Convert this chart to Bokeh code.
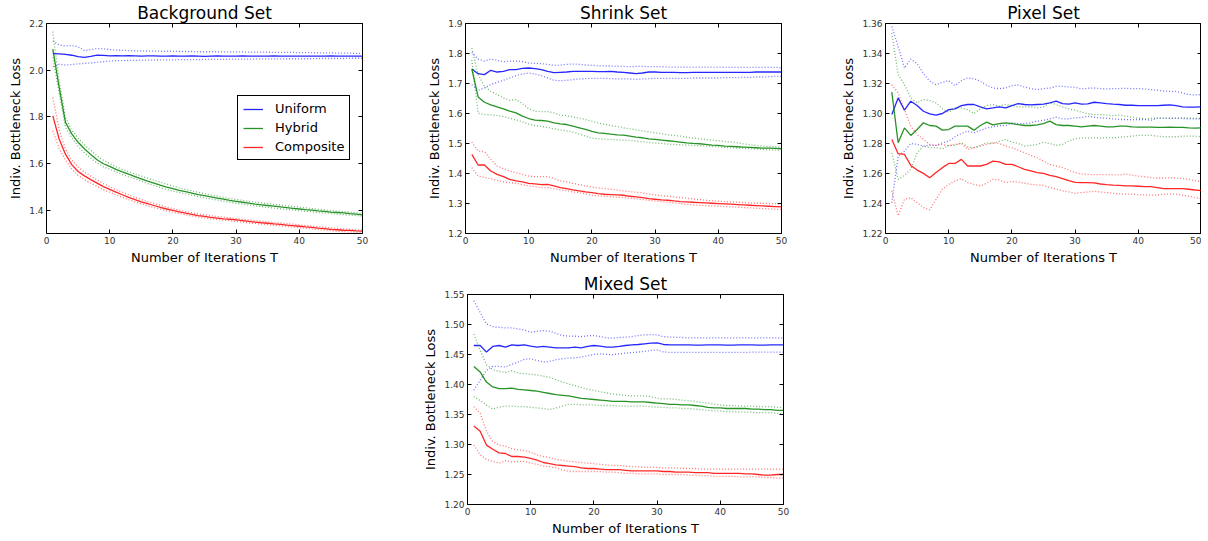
from bokeh.plotting import figure
from bokeh.models import Range1d, FixedTicker, PrintfTickFormatter, LinearAxis, Legend, LegendItem, Spacer
from bokeh.layouts import row, column
from bokeh.embed import file_html
from bokeh.resources import INLINE

T = list(range(1, 51))
x_ticks = [0, 10, 20, 30, 40, 50]
series_names = ["Uniform", "Hybrid", "Composite"]

# ---------------- Background Set ----------------
bg_uni = [2.071, 2.070, 2.068, 2.064, 2.058, 2.055, 2.059, 2.064, 2.063, 2.061, 2.062, 2.061, 2.062, 2.061, 2.060, 2.061, 2.061, 2.060, 2.060, 2.061,
          2.060, 2.060, 2.061, 2.060, 2.059, 2.060, 2.061, 2.060, 2.060, 2.060, 2.061, 2.060, 2.060, 2.060, 2.060, 2.061, 2.060, 2.060, 2.060, 2.060,
          2.060, 2.060, 2.060, 2.060, 2.061, 2.060, 2.060, 2.060, 2.060, 2.060]
bg_uni_hi = [2.125, 2.108, 2.104, 2.106, 2.100, 2.084, 2.088, 2.093, 2.092, 2.088, 2.086, 2.085, 2.084, 2.083, 2.083, 2.082, 2.082, 2.081, 2.081, 2.081,
             2.080, 2.080, 2.080, 2.079, 2.079, 2.079, 2.079, 2.078, 2.078, 2.078, 2.078, 2.077, 2.077, 2.077, 2.077, 2.076, 2.076, 2.076, 2.076, 2.075,
             2.075, 2.075, 2.074, 2.074, 2.074, 2.073, 2.073, 2.073, 2.072, 2.072]
bg_uni_lo = [2.015, 2.025, 2.022, 2.024, 2.027, 2.029, 2.031, 2.034, 2.036, 2.039, 2.041, 2.041, 2.042, 2.042, 2.043, 2.043, 2.043, 2.044, 2.044, 2.044,
             2.045, 2.045, 2.045, 2.045, 2.046, 2.046, 2.046, 2.046, 2.047, 2.047, 2.047, 2.047, 2.048, 2.048, 2.048, 2.048, 2.048, 2.049, 2.049, 2.049,
             2.049, 2.049, 2.050, 2.050, 2.050, 2.050, 2.050, 2.051, 2.051, 2.051]
bg_hyb = [2.090, 1.927, 1.776, 1.727, 1.691, 1.663, 1.639, 1.616, 1.599, 1.588, 1.575, 1.564, 1.554, 1.544, 1.534, 1.524, 1.516, 1.507, 1.499, 1.492,
          1.485, 1.479, 1.473, 1.467, 1.462, 1.457, 1.452, 1.447, 1.442, 1.438, 1.434, 1.430, 1.426, 1.423, 1.420, 1.417, 1.414, 1.411, 1.408, 1.405,
          1.402, 1.400, 1.397, 1.395, 1.392, 1.390, 1.388, 1.385, 1.383, 1.380]
bg_hyb_hi = [2.165, 1.953, 1.797, 1.743, 1.708, 1.681, 1.656, 1.633, 1.614, 1.600, 1.586, 1.575, 1.565, 1.555, 1.546, 1.537, 1.528, 1.520, 1.512, 1.503,
             1.496, 1.489, 1.483, 1.477, 1.471, 1.465, 1.460, 1.455, 1.450, 1.446, 1.442, 1.438, 1.435, 1.431, 1.428, 1.425, 1.422, 1.419, 1.416, 1.413,
             1.410, 1.407, 1.404, 1.401, 1.398, 1.396, 1.394, 1.391, 1.389, 1.386]
bg_hyb_lo = [2.055, 1.903, 1.755, 1.710, 1.674, 1.646, 1.623, 1.602, 1.585, 1.576, 1.564, 1.553, 1.543, 1.534, 1.524, 1.514, 1.506, 1.497, 1.489, 1.482,
             1.476, 1.470, 1.464, 1.458, 1.453, 1.448, 1.443, 1.439, 1.434, 1.430, 1.426, 1.422, 1.418, 1.415, 1.412, 1.409, 1.406, 1.403, 1.401, 1.398,
             1.395, 1.393, 1.390, 1.388, 1.386, 1.383, 1.381, 1.379, 1.377, 1.374]
bg_com = [1.804, 1.705, 1.640, 1.595, 1.566, 1.547, 1.531, 1.516, 1.501, 1.489, 1.477, 1.466, 1.455, 1.445, 1.436, 1.428, 1.420, 1.412, 1.405, 1.399,
          1.393, 1.387, 1.382, 1.377, 1.373, 1.369, 1.366, 1.363, 1.361, 1.358, 1.355, 1.352, 1.349, 1.346, 1.344, 1.341, 1.339, 1.336, 1.334, 1.331,
          1.328, 1.326, 1.323, 1.321, 1.318, 1.316, 1.314, 1.313, 1.311, 1.310]
bg_com_hi = [1.882, 1.745, 1.662, 1.615, 1.585, 1.563, 1.546, 1.530, 1.514, 1.501, 1.488, 1.477, 1.466, 1.455, 1.446, 1.437, 1.429, 1.421, 1.413, 1.407,
             1.400, 1.394, 1.389, 1.384, 1.380, 1.376, 1.373, 1.370, 1.367, 1.364, 1.361, 1.358, 1.355, 1.352, 1.350, 1.347, 1.345, 1.342, 1.340, 1.337,
             1.334, 1.332, 1.329, 1.327, 1.324, 1.322, 1.320, 1.318, 1.316, 1.315]
bg_com_lo = [1.740, 1.665, 1.615, 1.577, 1.549, 1.531, 1.516, 1.502, 1.488, 1.477, 1.466, 1.455, 1.445, 1.436, 1.427, 1.419, 1.411, 1.404, 1.397, 1.391,
             1.386, 1.380, 1.375, 1.371, 1.367, 1.363, 1.360, 1.357, 1.355, 1.352, 1.349, 1.346, 1.343, 1.340, 1.338, 1.335, 1.333, 1.330, 1.328, 1.325,
             1.322, 1.320, 1.317, 1.315, 1.312, 1.310, 1.308, 1.307, 1.305, 1.304]

# ---------------- Shrink Set ----------------
sh_uni = [1.7483, 1.7328, 1.7295, 1.7439, 1.7383, 1.7405, 1.7461, 1.7461, 1.7505, 1.7516, 1.7494, 1.7461, 1.7405, 1.7361, 1.7372, 1.7383, 1.7405, 1.7405, 1.7405, 1.7405,
          1.7394, 1.7394, 1.7405, 1.7383, 1.7372, 1.7350, 1.7328, 1.7350, 1.7383, 1.7383, 1.7372, 1.7372, 1.7372, 1.7361, 1.7361, 1.7372, 1.7372, 1.7372, 1.7372, 1.7372,
          1.7372, 1.7372, 1.7372, 1.7372, 1.7372, 1.7383, 1.7383, 1.7383, 1.7383, 1.7383]
sh_uni_hi = [1.8037, 1.7815, 1.7749, 1.7815, 1.7771, 1.7726, 1.7749, 1.7749, 1.7726, 1.7682, 1.7671, 1.7660, 1.7638, 1.7605, 1.7616, 1.7638, 1.7649, 1.7638, 1.7616, 1.7605,
             1.7594, 1.7583, 1.7583, 1.7571, 1.7571, 1.7560, 1.7571, 1.7571, 1.7560, 1.7560, 1.7560, 1.7549, 1.7549, 1.7549, 1.7549, 1.7549, 1.7549, 1.7549, 1.7549, 1.7549,
             1.7538, 1.7538, 1.7538, 1.7538, 1.7538, 1.7538, 1.7538, 1.7538, 1.7538, 1.7527]
sh_uni_lo = [1.6962, 1.6774, 1.6852, 1.6962, 1.7040, 1.7106, 1.7184, 1.7261, 1.7317, 1.7350, 1.7317, 1.7261, 1.7184, 1.7106, 1.7095, 1.7106, 1.7128, 1.7151, 1.7162, 1.7173,
             1.7173, 1.7173, 1.7162, 1.7151, 1.7151, 1.7151, 1.7140, 1.7151, 1.7162, 1.7173, 1.7173, 1.7173, 1.7173, 1.7173, 1.7173, 1.7184, 1.7184, 1.7184, 1.7184, 1.7184,
             1.7195, 1.7195, 1.7195, 1.7206, 1.7206, 1.7217, 1.7217, 1.7228, 1.7239, 1.7239]
sh_hyb = [1.7483, 1.6553, 1.6375, 1.6287, 1.6220, 1.6154, 1.6076, 1.6021, 1.5910, 1.5833, 1.5777, 1.5766, 1.5744, 1.5689, 1.5656, 1.5633, 1.5578, 1.5523, 1.5467, 1.5401,
          1.5357, 1.5335, 1.5312, 1.5290, 1.5279, 1.5246, 1.5213, 1.5191, 1.5157, 1.5135, 1.5113, 1.5091, 1.5069, 1.5047, 1.5024, 1.5002, 1.4991, 1.4969, 1.4947, 1.4936,
          1.4914, 1.4903, 1.4892, 1.4880, 1.4869, 1.4858, 1.4847, 1.4847, 1.4836, 1.4825]
sh_hyb_hi = [1.8180, 1.7295, 1.6907, 1.6741, 1.6630, 1.6520, 1.6442, 1.6464, 1.6331, 1.6154, 1.6076, 1.6065, 1.6065, 1.6021, 1.5944, 1.5932, 1.5888, 1.5844, 1.5800, 1.5744,
             1.5689, 1.5633, 1.5600, 1.5567, 1.5523, 1.5489, 1.5456, 1.5423, 1.5390, 1.5357, 1.5323, 1.5290, 1.5268, 1.5246, 1.5213, 1.5180, 1.5157, 1.5135, 1.5113, 1.5091,
             1.5069, 1.5047, 1.5024, 1.4991, 1.4958, 1.4936, 1.4914, 1.4903, 1.4892, 1.4880]
sh_hyb_lo = [1.7782, 1.6010, 1.5966, 1.5955, 1.5932, 1.5899, 1.5844, 1.5789, 1.5722, 1.5645, 1.5600, 1.5567, 1.5534, 1.5490, 1.5456, 1.5423, 1.5379, 1.5312, 1.5246, 1.5179,
             1.5157, 1.5146, 1.5135, 1.5124, 1.5113, 1.5102, 1.5080, 1.5058, 1.5035, 1.5013, 1.5002, 1.4980, 1.4969, 1.4958, 1.4947, 1.4936, 1.4925, 1.4914, 1.4903, 1.4891,
             1.4869, 1.4858, 1.4847, 1.4836, 1.4825, 1.4814, 1.4803, 1.4792, 1.4781, 1.4770]
sh_com = [1.4637, 1.4283, 1.4283, 1.4083, 1.3972, 1.3895, 1.3806, 1.3751, 1.3718, 1.3673, 1.3651, 1.3629, 1.3640, 1.3585, 1.3529, 1.3496, 1.3452, 1.3419, 1.3385, 1.3363,
          1.3330, 1.3308, 1.3297, 1.3286, 1.3275, 1.3241, 1.3219, 1.3197, 1.3164, 1.3142, 1.3120, 1.3109, 1.3086, 1.3064, 1.3053, 1.3042, 1.3031, 1.3020, 1.3009, 1.2998,
          1.2987, 1.2976, 1.2965, 1.2954, 1.2942, 1.2931, 1.2920, 1.2909, 1.2898, 1.2887]
sh_com_hi = [1.5047, 1.4747, 1.4725, 1.4471, 1.4249, 1.4161, 1.4083, 1.4028, 1.3972, 1.3917, 1.3895, 1.3895, 1.3895, 1.3828, 1.3751, 1.3718, 1.3673, 1.3629, 1.3585, 1.3552,
             1.3518, 1.3496, 1.3474, 1.3452, 1.3419, 1.3396, 1.3374, 1.3352, 1.3319, 1.3286, 1.3264, 1.3241, 1.3219, 1.3197, 1.3175, 1.3153, 1.3131, 1.3109, 1.3086, 1.3075,
             1.3064, 1.3053, 1.3042, 1.3031, 1.3020, 1.3009, 1.3009, 1.2998, 1.2998, 1.2987]
sh_com_lo = [1.4194, 1.3917, 1.3862, 1.3828, 1.3773, 1.3718, 1.3695, 1.3673, 1.3629, 1.3585, 1.3563, 1.3529, 1.3529, 1.3496, 1.3452, 1.3430, 1.3385, 1.3363, 1.3319, 1.3275,
             1.3252, 1.3241, 1.3230, 1.3208, 1.3197, 1.3175, 1.3153, 1.3131, 1.3109, 1.3086, 1.3064, 1.3042, 1.3020, 1.2998, 1.2976, 1.2954, 1.2942, 1.2931, 1.2920, 1.2909,
             1.2898, 1.2887, 1.2876, 1.2865, 1.2854, 1.2843, 1.2832, 1.2821, 1.2810, 1.2799]

# ---------------- Pixel Set ----------------
px_uni = [1.2993, 1.3104, 1.3022, 1.3082, 1.3053, 1.3015, 1.2998, 1.2989, 1.3000, 1.3026, 1.3031, 1.3053, 1.3060, 1.3060, 1.3044, 1.3031, 1.3037, 1.3044, 1.3037, 1.3053,
          1.3066, 1.3060, 1.3057, 1.3060, 1.3062, 1.3071, 1.3082, 1.3066, 1.3062, 1.3071, 1.3062, 1.3064, 1.3075, 1.3071, 1.3066, 1.3062, 1.3060, 1.3055, 1.3055, 1.3053,
          1.3053, 1.3053, 1.3053, 1.3055, 1.3057, 1.3053, 1.3044, 1.3042, 1.3042, 1.3044]
px_uni_hi = [1.3580, 1.3447, 1.3303, 1.3363, 1.3332, 1.3266, 1.3215, 1.3192, 1.3208, 1.3219, 1.3186, 1.3219, 1.3237, 1.3232, 1.3215, 1.3188, 1.3170, 1.3166, 1.3170, 1.3186,
             1.3190, 1.3177, 1.3166, 1.3159, 1.3166, 1.3170, 1.3181, 1.3181, 1.3177, 1.3175, 1.3164, 1.3168, 1.3170, 1.3166, 1.3164, 1.3166, 1.3166, 1.3168, 1.3166, 1.3166,
             1.3164, 1.3159, 1.3155, 1.3150, 1.3148, 1.3148, 1.3137, 1.3126, 1.3124, 1.3126]
px_uni_lo = [1.2406, 1.2716, 1.2749, 1.2800, 1.2794, 1.2783, 1.2787, 1.2787, 1.2805, 1.2816, 1.2845, 1.2867, 1.2882, 1.2871, 1.2887, 1.2904, 1.2911, 1.2920, 1.2920, 1.2938,
             1.2933, 1.2933, 1.2938, 1.2949, 1.2955, 1.2964, 1.2975, 1.2964, 1.2964, 1.2971, 1.2973, 1.2982, 1.2975, 1.2971, 1.2969, 1.2964, 1.2960, 1.2960, 1.2958, 1.2960,
             1.2960, 1.2955, 1.2969, 1.2967, 1.2967, 1.2967, 1.2967, 1.2964, 1.2964, 1.2964]
px_hyb = [1.3142, 1.2805, 1.2904, 1.2854, 1.2893, 1.2938, 1.2920, 1.2916, 1.2889, 1.2893, 1.2916, 1.2916, 1.2916, 1.2889, 1.2920, 1.2942, 1.2924, 1.2933, 1.2938, 1.2933,
          1.2926, 1.2920, 1.2920, 1.2924, 1.2933, 1.2949, 1.2926, 1.2920, 1.2920, 1.2916, 1.2911, 1.2916, 1.2920, 1.2916, 1.2911, 1.2911, 1.2916, 1.2916, 1.2911, 1.2909,
          1.2909, 1.2909, 1.2907, 1.2907, 1.2909, 1.2907, 1.2907, 1.2904, 1.2902, 1.2904]
px_hyb_hi = [1.3536, 1.3259, 1.3192, 1.3104, 1.3071, 1.3093, 1.3086, 1.3071, 1.3031, 1.3009, 1.3037, 1.3037, 1.3026, 1.3000, 1.3031, 1.3053, 1.3060, 1.3049, 1.3060, 1.3053,
             1.3044, 1.3044, 1.3044, 1.3037, 1.3044, 1.3071, 1.3060, 1.3044, 1.3031, 1.3022, 1.3009, 1.2998, 1.2993, 1.2993, 1.2989, 1.2986, 1.2989, 1.2982, 1.2975, 1.2969,
             1.2964, 1.2967, 1.2969, 1.2969, 1.2969, 1.2969, 1.2971, 1.2969, 1.2967, 1.2967]
px_hyb_lo = [1.2738, 1.2561, 1.2588, 1.2628, 1.2738, 1.2783, 1.2772, 1.2772, 1.2765, 1.2787, 1.2787, 1.2805, 1.2778, 1.2772, 1.2787, 1.2805, 1.2800, 1.2814, 1.2827, 1.2809,
             1.2800, 1.2783, 1.2787, 1.2794, 1.2809, 1.2800, 1.2787, 1.2794, 1.2816, 1.2831, 1.2838, 1.2836, 1.2838, 1.2836, 1.2840, 1.2838, 1.2842, 1.2845, 1.2849, 1.2854,
             1.2854, 1.2854, 1.2849, 1.2845, 1.2845, 1.2845, 1.2849, 1.2849, 1.2849, 1.2845]
px_com = [1.2827, 1.2732, 1.2727, 1.2654, 1.2623, 1.2601, 1.2572, 1.2606, 1.2639, 1.2667, 1.2667, 1.2694, 1.2650, 1.2650, 1.2650, 1.2661, 1.2683, 1.2677, 1.2661, 1.2661,
          1.2645, 1.2628, 1.2617, 1.2606, 1.2601, 1.2588, 1.2579, 1.2566, 1.2552, 1.2541, 1.2539, 1.2539, 1.2537, 1.2530, 1.2526, 1.2523, 1.2521, 1.2517, 1.2517, 1.2515,
          1.2512, 1.2512, 1.2506, 1.2499, 1.2499, 1.2499, 1.2499, 1.2495, 1.2490, 1.2486]
px_com_hi = [1.3192, 1.3137, 1.3026, 1.2916, 1.2860, 1.2827, 1.2794, 1.2787, 1.2794, 1.2783, 1.2794, 1.2800, 1.2761, 1.2772, 1.2783, 1.2794, 1.2805, 1.2800, 1.2783, 1.2772,
             1.2756, 1.2738, 1.2721, 1.2705, 1.2683, 1.2659, 1.2650, 1.2639, 1.2623, 1.2606, 1.2597, 1.2594, 1.2592, 1.2592, 1.2592, 1.2592, 1.2590, 1.2597, 1.2588, 1.2583,
             1.2579, 1.2572, 1.2570, 1.2570, 1.2572, 1.2570, 1.2566, 1.2561, 1.2552, 1.2546]
px_com_lo = [1.2484, 1.2318, 1.2428, 1.2439, 1.2406, 1.2373, 1.2358, 1.2428, 1.2495, 1.2528, 1.2550, 1.2566, 1.2539, 1.2528, 1.2517, 1.2535, 1.2561, 1.2557, 1.2539, 1.2546,
             1.2543, 1.2535, 1.2528, 1.2523, 1.2521, 1.2506, 1.2495, 1.2484, 1.2477, 1.2468, 1.2473, 1.2477, 1.2481, 1.2477, 1.2473, 1.2468, 1.2464, 1.2462, 1.2462, 1.2459,
             1.2457, 1.2455, 1.2457, 1.2462, 1.2464, 1.2462, 1.2455, 1.2450, 1.2439, 1.2433]

# ---------------- Mixed Set ----------------
mx_uni = [1.4650, 1.4650, 1.4540, 1.4634, 1.4650, 1.4623, 1.4661, 1.4650, 1.4661, 1.4639, 1.4623, 1.4634, 1.4623, 1.4611, 1.4611, 1.4611, 1.4623, 1.4611, 1.4634, 1.4650,
          1.4639, 1.4623, 1.4623, 1.4634, 1.4650, 1.4661, 1.4667, 1.4678, 1.4689, 1.4694, 1.4667, 1.4661, 1.4661, 1.4661, 1.4661, 1.4655, 1.4655, 1.4661, 1.4661, 1.4661,
          1.4655, 1.4655, 1.4661, 1.4661, 1.4661, 1.4655, 1.4655, 1.4661, 1.4661, 1.4661]
mx_uni_hi = [1.5395, 1.5202, 1.5009, 1.4965, 1.4954, 1.4943, 1.4943, 1.4926, 1.4910, 1.4871, 1.4887, 1.4898, 1.4887, 1.4854, 1.4816, 1.4805, 1.4805, 1.4799, 1.4810, 1.4816,
             1.4799, 1.4777, 1.4772, 1.4783, 1.4788, 1.4799, 1.4816, 1.4827, 1.4832, 1.4827, 1.4799, 1.4788, 1.4788, 1.4783, 1.4777, 1.4777, 1.4777, 1.4777, 1.4777, 1.4777,
             1.4777, 1.4777, 1.4777, 1.4777, 1.4777, 1.4777, 1.4777, 1.4777, 1.4777, 1.4772]
mx_uni_lo = [1.3905, 1.4071, 1.4236, 1.4302, 1.4302, 1.4291, 1.4336, 1.4374, 1.4418, 1.4429, 1.4402, 1.4374, 1.4385, 1.4413, 1.4429, 1.4440, 1.4446, 1.4457, 1.4479, 1.4501,
             1.4512, 1.4501, 1.4496, 1.4512, 1.4523, 1.4534, 1.4540, 1.4551, 1.4567, 1.4578, 1.4545, 1.4534, 1.4534, 1.4534, 1.4534, 1.4534, 1.4534, 1.4534, 1.4534, 1.4534,
             1.4534, 1.4534, 1.4534, 1.4534, 1.4540, 1.4540, 1.4540, 1.4540, 1.4540, 1.4540]
mx_hyb = [1.430, 1.421, 1.404, 1.396, 1.393, 1.393, 1.394, 1.392, 1.391, 1.390, 1.389, 1.387, 1.385, 1.383, 1.382, 1.381, 1.379, 1.377, 1.376, 1.375,
          1.374, 1.373, 1.372, 1.372, 1.372, 1.371, 1.371, 1.371, 1.370, 1.369, 1.368, 1.367, 1.367, 1.366, 1.366, 1.365, 1.364, 1.362, 1.361, 1.361,
          1.360, 1.360, 1.360, 1.360, 1.359, 1.359, 1.358, 1.358, 1.357, 1.357]
mx_hyb_hi = [1.484, 1.457, 1.433, 1.425, 1.422, 1.420, 1.423, 1.419, 1.418, 1.417, 1.416, 1.414, 1.412, 1.408, 1.404, 1.401, 1.398, 1.395, 1.392, 1.390,
             1.388, 1.386, 1.384, 1.383, 1.382, 1.381, 1.381, 1.381, 1.380, 1.377, 1.376, 1.376, 1.375, 1.374, 1.373, 1.372, 1.370, 1.369, 1.367, 1.366,
             1.365, 1.365, 1.364, 1.364, 1.364, 1.363, 1.363, 1.363, 1.362, 1.362]
mx_hyb_lo = [1.380, 1.373, 1.366, 1.359, 1.362, 1.364, 1.364, 1.363, 1.363, 1.362, 1.361, 1.360, 1.358, 1.361, 1.364, 1.367, 1.367, 1.366, 1.366, 1.366,
             1.365, 1.365, 1.365, 1.364, 1.364, 1.364, 1.364, 1.364, 1.363, 1.362, 1.362, 1.361, 1.361, 1.360, 1.360, 1.359, 1.358, 1.357, 1.356, 1.356,
             1.355, 1.355, 1.354, 1.354, 1.354, 1.353, 1.353, 1.353, 1.352, 1.352]
mx_com = [1.331, 1.322, 1.299, 1.292, 1.286, 1.285, 1.280, 1.280, 1.279, 1.277, 1.274, 1.270, 1.268, 1.266, 1.265, 1.264, 1.263, 1.261, 1.260, 1.260,
          1.259, 1.258, 1.258, 1.258, 1.257, 1.256, 1.256, 1.256, 1.256, 1.256, 1.255, 1.255, 1.254, 1.254, 1.254, 1.253, 1.253, 1.253, 1.252, 1.252,
          1.252, 1.252, 1.252, 1.251, 1.251, 1.250, 1.249, 1.249, 1.250, 1.250]
mx_com_hi = [1.363, 1.352, 1.322, 1.305, 1.299, 1.297, 1.293, 1.291, 1.290, 1.287, 1.283, 1.280, 1.278, 1.275, 1.274, 1.272, 1.271, 1.270, 1.269, 1.268,
             1.267, 1.266, 1.265, 1.265, 1.264, 1.263, 1.263, 1.262, 1.262, 1.262, 1.261, 1.261, 1.261, 1.260, 1.260, 1.260, 1.259, 1.259, 1.259, 1.259,
             1.259, 1.259, 1.259, 1.259, 1.259, 1.259, 1.259, 1.259, 1.259, 1.259]
mx_com_lo = [1.299, 1.283, 1.275, 1.272, 1.269, 1.273, 1.271, 1.272, 1.272, 1.269, 1.267, 1.264, 1.263, 1.261, 1.258, 1.255, 1.255, 1.255, 1.255, 1.255,
             1.255, 1.254, 1.254, 1.253, 1.252, 1.252, 1.251, 1.251, 1.251, 1.251, 1.250, 1.250, 1.250, 1.250, 1.249, 1.249, 1.248, 1.248, 1.247, 1.247,
             1.247, 1.247, 1.246, 1.246, 1.246, 1.246, 1.245, 1.245, 1.244, 1.244]

bg_yticks = [1.4, 1.6, 1.8, 2.0, 2.2]
sh_yticks = [1.2, 1.3, 1.4, 1.5, 1.6, 1.7, 1.8, 1.9]
px_yticks = [1.22, 1.24, 1.26, 1.28, 1.30, 1.32, 1.34, 1.36]
mx_yticks = [1.20, 1.25, 1.30, 1.35, 1.40, 1.45, 1.50, 1.55]

COLORS = ["#0000ff", "#008000", "#ff0000"]
FONT = "DejaVu Sans"
FW, FH = 316, 210


def make(title, yr, yticks, fmt, groups, left, right, top, bottom, legend=False):
    p = figure(frame_width=FW, frame_height=FH, x_range=Range1d(0, 50), y_range=Range1d(*yr),
               output_backend="svg", toolbar_location=None, title=title,
               min_border_left=left, min_border_right=right, min_border_top=top, min_border_bottom=bottom,
               background_fill_color="white", border_fill_color="white")
    p.title.text_font = FONT
    p.title.text_font_size = "17px"
    p.title.text_font_style = "normal"
    p.title.align = "center"
    p.title.standoff = 1
    p.title.text_color = "black"
    p.grid.visible = False
    p.outline_line_color = "black"
    p.outline_line_width = 1
    p.outline_line_alpha = 1

    for ax, ticks in ((p.xaxis[0], x_ticks), (p.yaxis[0], yticks)):
        ax.ticker = FixedTicker(ticks=ticks)
        ax.major_tick_in = 4
        ax.major_tick_out = 0
        ax.minor_tick_line_color = None
        ax.axis_line_color = None
        ax.major_label_text_font = FONT
        ax.major_label_text_font_size = "9px"
        ax.major_label_text_color = "#333333"
        ax.major_label_standoff = 3
        ax.axis_label_text_font = FONT
        ax.axis_label_text_font_size = "13px"
        ax.axis_label_text_font_style = "normal"
        ax.axis_label_text_color = "black"
        ax.axis_label_standoff = 3
    p.yaxis[0].formatter = PrintfTickFormatter(format=fmt)
    p.xaxis[0].axis_label = "Number of Iterations T"
    p.yaxis[0].axis_label = "Indiv. Bottleneck Loss"

    for loc, ticks in (("right", yticks), ("above", x_ticks)):
        ax = LinearAxis(ticker=FixedTicker(ticks=ticks), major_tick_in=4, major_tick_out=0,
                        minor_tick_line_color=None, axis_line_color=None,
                        major_label_text_font_size="0px", major_label_standoff=0,
                        major_label_text_alpha=0)
        p.add_layout(ax, loc)

    items = []
    for (mean, hi, lo), color, name in zip(groups, COLORS, series_names):
        p.line(T, hi, line_color=color, line_width=1.3, line_alpha=0.55, line_dash="1 2")
        p.line(T, lo, line_color=color, line_width=1.3, line_alpha=0.55, line_dash="1 2")
        r = p.line(T, mean, line_color=color, line_width=1.3, line_alpha=0.85)
        items.append(LegendItem(label=name, renderers=[r]))

    if legend:
        lg = Legend(items=items, location=(191, 73), orientation="vertical",
                    label_text_font=FONT, label_text_font_size="13px", label_text_color="black",
                    glyph_width=20, glyph_height=14, label_height=14, label_standoff=12,
                    spacing=4, padding=5, margin=0,
                    border_line_color="black", border_line_width=1, border_line_alpha=1,
                    background_fill_color="white", background_fill_alpha=1)
        p.add_layout(lg, "center")
    return p


p1 = make("Background Set", (1.3, 2.2), bg_yticks, "%.1f",
          [(bg_uni, bg_uni_hi, bg_uni_lo), (bg_hyb, bg_hyb_hi, bg_hyb_lo), (bg_com, bg_com_hi, bg_com_lo)],
          46, 60, 0, 0, legend=True)
p2 = make("Shrink Set", (1.2, 1.9), sh_yticks, "%.1f",
          [(sh_uni, sh_uni_hi, sh_uni_lo), (sh_hyb, sh_hyb_hi, sh_hyb_lo), (sh_com, sh_com_hi, sh_com_lo)],
          43, 57, 0, 0)
p3 = make("Pixel Set", (1.22, 1.36), px_yticks, "%.2f",
          [(px_uni, px_uni_hi, px_uni_lo), (px_hyb, px_hyb_hi, px_hyb_lo), (px_com, px_com_hi, px_com_lo)],
          44, 0, 0, 0)
p4 = make("Mixed Set", (1.2, 1.55), mx_yticks, "%.2f",
          [(mx_uni, mx_uni_hi, mx_uni_lo), (mx_hyb, mx_hyb_hi, mx_hyb_lo), (mx_com, mx_com_hi, mx_com_lo)],
          43, 57, 0, 0)

layout = column(row(p1, p2, p3),
                Spacer(width=10, height=4),
                row(Spacer(width=420, height=10), p4))

open("out.html", "w").write(file_html(layout, INLINE))
